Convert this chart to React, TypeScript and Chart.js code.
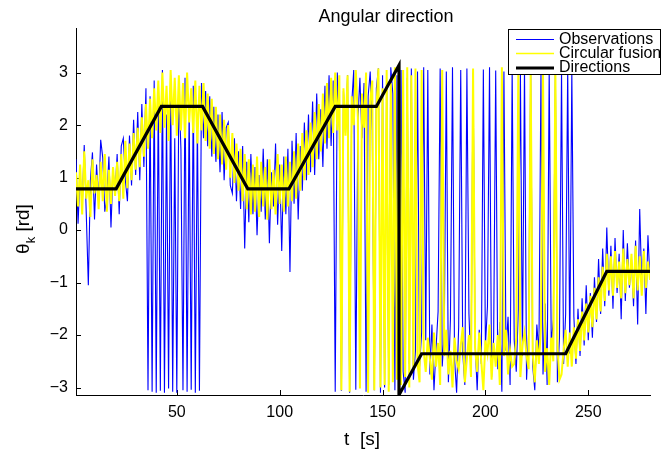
import React, { useEffect, useRef } from "react";
import { Chart, registerables } from "chart.js";

Chart.register(...registerables);

// time stamps: one sample per second starting at t = 1 s
const T_FIRST = 1;
const T_STEP = 1;

// Observations (blue), rad
const observations = [
  1.35, 0.12, 1.10, 0.45, 1.62, 0.30, -1.05, 0.95, 1.48, 0.20,
  1.25, 0.55, 1.72, 1.38, 0.35, 0.62, 1.40, 0.05, 1.15, 0.70,
  1.45, 0.30, 1.60, 1.75, 0.95, 0.55, 1.80, 0.85, 2.10, 1.05,
  2.25, 0.95, 2.40, 1.20, 2.70, -3.05, 2.55, -3.08, 2.85, -3.10,
  2.60, -3.06, 3.05, -3.10, 2.20, -3.02, 2.95, -3.08, 1.75, -3.10,
  2.70, 1.55, -3.05, 2.90, -3.08, 2.40, -3.04, 2.75, -3.10, 2.15,
  -3.06, 2.80, 1.75, 2.65, 1.60, 2.55, 1.40, 2.35, 1.30, 2.20,
  1.10, 2.25, 0.95, 1.95, 2.05, 0.85, 0.70, 1.75, 0.55, 1.50,
  0.40, 1.60, -0.35, 1.30, 0.15, 1.45, 0.30, 1.20, -0.10, 1.05,
  0.35, 1.55, 0.20, 1.35, -0.25, 1.10, 0.45, 1.65, 0.10, 1.25,
  -0.40, 1.40, 0.30, 1.55, -0.80, 1.70, 0.50, 1.85, 0.20, 1.60,
  0.75, 2.05, 0.95, 2.20, 1.10, 2.45, 1.05, 2.60, 1.35, 2.30,
  1.20, 2.75, 1.55, 2.95, 1.60, 2.85, -3.08, 3.00, 1.95, -3.06,
  2.65, 1.85, 2.95, -3.10, 2.40, 3.05, -3.04, 2.10, 2.90, 1.75,
  2.80, -3.08, 2.55, 3.02, 1.90, -3.05, 2.70, 3.08, -3.10, 2.95,
  -3.00, 2.85, -2.95, 3.10, 2.60, -3.05, 2.95, -2.90, 3.05, -2.70,
  -3.10, 2.90, -2.55, 3.08, -2.85, -2.30, 3.02, -2.60, -1.95, 3.10,
  -2.10, 3.05, -2.75, -1.80, -3.05, -2.25, -1.55, 3.08, -2.60, -1.95,
  3.02, -2.90, -1.70, 3.10, -2.45, -3.10, -1.85, 3.05, -2.35, -2.95,
  3.08, -1.60, -2.70, 3.00, -2.15, -3.05, -1.90, -2.55, 3.06, -2.20,
  -1.45, 3.10, -2.80, -2.05, 3.04, -2.65, -1.75, -3.08, 3.02, -2.30,
  -1.65, -2.95, 3.08, -2.10, -2.70, -1.50, 3.05, -2.40, 3.10, -2.85,
  -1.95, 3.06, -2.60, -3.05, -1.80, -2.35, 3.02, -2.75, -1.40, -2.95,
  3.08, -2.20, -1.70, 3.00, -2.90, -2.05, 3.04, -2.55, -1.60, 3.10,
  -2.35, 3.05, -1.65, -2.55, -1.50, -2.40, -1.30, -2.20, -1.05, -2.10,
  -1.20, -2.05, -0.90, -1.75, -0.55, -1.60, -0.35, -1.45, 0.05, -1.25,
  -0.30, -1.50, -0.15, -1.20, -0.45, -1.70, 0.00, -1.35, -0.25, -1.10,
  -0.55, -1.45, -0.20, -1.80, 0.40, -1.05, -0.35, -1.60, -0.10, -0.95,
];

// Circular fusion (yellow), rad
const fusion = [
  1.10, 0.45, 1.25, 0.30, 1.50, 0.60, 0.95, 0.25, 1.35, 0.70,
  1.05, 0.40, 1.30, 0.55, 1.45, 0.35, 1.15, 0.50, 1.20, 0.65,
  1.30, 0.55, 1.45, 0.60, 1.70, 0.80, 1.65, 0.95, 1.85, 1.15,
  1.95, 1.20, 2.15, 1.40, 2.40, 1.55, 2.50, 1.75, 2.70, 1.90,
  2.85, 1.85, 3.00, 1.95, 2.75, 1.70, 3.05, 2.00, 2.90, 1.80,
  2.95, 1.90, 2.80, 1.75, 3.00, 2.05, 2.70, 1.85, 2.85, 1.65,
  2.75, 1.90, 2.80, 1.70, 2.60, 1.55, 2.50, 1.45, 2.35, 1.35,
  2.20, 1.25, 2.10, 1.15, 2.00, 1.00, 1.85, 0.90, 1.65, 0.75,
  1.55, 0.55, 1.45, 0.40, 1.35, 0.30, 1.25, 0.35, 1.40, 0.25,
  1.30, 0.45, 1.20, 0.20, 1.35, 0.40, 1.15, 0.30, 1.45, 0.50,
  1.25, 0.35, 1.40, 0.45, 1.30, 0.55, 1.50, 0.60, 1.65, 0.75,
  1.85, 0.95, 1.90, 1.05, 2.05, 1.20, 2.25, 1.35, 2.40, 1.50,
  2.60, 1.65, 2.80, 1.75, 2.90, 1.85, 3.00, 1.90, 2.95, -3.05,
  2.70, 1.80, 2.95, -3.08, 2.55, 2.00, 3.05, 2.15, -3.02, 2.60,
  1.95, 3.00, -3.10, 2.45, 2.85, -3.05, 2.30, 3.08, -3.00, 2.70,
  -2.95, 3.05, -3.08, 2.80, -2.90, 3.10, -2.85, 3.02, -2.95, 3.05,
  -2.80, 3.10, -3.00, 2.95, -2.65, 3.08, -2.55, -2.90, 3.05, -2.30,
  -2.70, -2.05, -2.45, -2.85, -1.95, -2.60, -2.15, -2.95, 3.05, -2.40,
  -1.90, -2.75, -2.30, -3.00, -2.05, -2.50, -2.65, -2.20, -1.85, -2.90,
  -2.45, -2.00, -2.80, 3.08, -2.25, -2.70, -1.95, -2.50, -3.05, -2.10,
  -2.35, -1.80, -2.85, -2.15, -2.60, -2.00, -2.95, 3.10, -2.40, -1.90,
  -2.75, -2.30, -2.60, -2.55, -2.05, 3.08, -2.80, -2.20, -1.95, -2.40,
  -2.65, 3.00, -2.35, -2.90, -2.10, -2.55, -1.85, 3.05, -2.70, -2.25,
  -2.95, -2.05, -2.50, 3.08, -2.20, -2.85, -2.75, -2.30, -1.90, -2.60,
  -1.95, -2.60, -1.85, -2.45, -1.70, -2.30, -1.55, -2.10, -1.40, -1.95,
  -1.25, -1.85, -1.10, -1.70, -0.90, -1.55, -0.70, -1.35, -0.45, -1.15,
  -0.50, -1.25, -0.40, -1.10, -0.60, -1.30, -0.35, -1.20, -0.55, -1.05,
  -0.45, -1.30, -0.30, -1.15, -0.50, -1.25, -0.40, -1.10, -0.60, -0.95,
];

// Directions (black) – break points
const directionT = [1, 20.5, 42.5, 62.5, 84.5, 104.5, 127, 147, 158, 158, 169, 239, 259, 280];
const directionV = [0.785, 0.785, 2.356, 2.356, 0.785, 0.785, 2.356, 2.356, 3.14, -3.14, -2.356, -2.356, -0.785, -0.785];

const xTicks = [50, 100, 150, 200, 250];
const yTicks = [-3, -2, -1, 0, 1, 2, 3];
const X_MIN = 1;
const X_MAX = 280;
const Y_MIN = -3.1416;
const Y_MAX = 3.85;

const legendLabels = ["Observations", "Circular fusion", "Directions"];
const FONT = "'Liberation Sans', Arial, Helvetica, sans-serif";

const decorPlugin = {
  id: "decor",
  beforeDatasetsDraw(chart: any) {
    const { ctx, chartArea: a, scales } = chart;
    ctx.save();
    ctx.strokeStyle = "#000";
    ctx.lineWidth = 1;
    ctx.beginPath();
    xTicks.forEach((v) => {
      const px = Math.round(scales.x.getPixelForValue(v)) + 0.5;
      ctx.moveTo(px, a.bottom);
      ctx.lineTo(px, a.bottom - 5);
    });
    yTicks.forEach((v) => {
      const py = Math.round(scales.y.getPixelForValue(v)) + 0.5;
      ctx.moveTo(a.left, py);
      ctx.lineTo(a.left + 5, py);
    });
    ctx.stroke();
    ctx.restore();
  },
  afterDraw(chart: any) {
    const { ctx } = chart;
    ctx.save();
    ctx.fillStyle = "#000";
    // title
    ctx.font = `18px ${FONT}`;
    ctx.textAlign = "center";
    ctx.textBaseline = "alphabetic";
    ctx.fillText("Angular direction", 386, 22);
    // x label
    ctx.font = `19px ${FONT}`;
    ctx.fillText("t  [s]", 362, 445);
    // y label (rotated)
    ctx.save();
    ctx.translate(29, 229);
    ctx.rotate(-Math.PI / 2);
    ctx.textAlign = "left";
    ctx.font = `19px ${FONT}`;
    const th = "θ";
    const wTh = ctx.measureText(th).width;
    ctx.font = `13px ${FONT}`;
    const wK = ctx.measureText("k").width;
    ctx.font = `19px ${FONT}`;
    const rest = " [rd]";
    const wRest = ctx.measureText(rest).width;
    const total = wTh + wK + wRest;
    let cx = -total / 2;
    ctx.fillText(th, cx, 0);
    cx += wTh;
    ctx.font = `13px ${FONT}`;
    ctx.fillText("k", cx, 6);
    cx += wK;
    ctx.font = `19px ${FONT}`;
    ctx.fillText(rest, cx, 0);
    ctx.restore();

    // legend
    const bx = 508.5, by = 29.5, bw = 152, bh = 45;
    ctx.fillStyle = "#fff";
    ctx.fillRect(bx, by, bw, bh);
    ctx.strokeStyle = "#000";
    ctx.lineWidth = 1;
    ctx.strokeRect(bx, by, bw, bh);
    const rows = [39.5, 53.5, 68];
    const colors = ["#0000ff", "#ffff00", "#000000"];
    const widths = [1, 1.5, 3];
    ctx.font = `16px ${FONT}`;
    ctx.textAlign = "left";
    ctx.textBaseline = "middle";
    rows.forEach((ry, i) => {
      ctx.strokeStyle = colors[i];
      ctx.lineWidth = widths[i];
      ctx.beginPath();
      ctx.moveTo(516, ry);
      ctx.lineTo(554, ry);
      ctx.stroke();
      ctx.fillStyle = "#000";
      ctx.fillText(legendLabels[i], 559, ry);
    });
    ctx.restore();
  },
};

export default function App() {
  const ref = useRef<HTMLCanvasElement | null>(null);
  useEffect(() => {
    document.body.style.margin = "0";
    const canvas = ref.current;
    if (!canvas) return;
    const obsPts = observations.map((v, i) => ({ x: T_FIRST + i * T_STEP, y: v }));
    const fusPts = fusion.map((v, i) => ({ x: T_FIRST + i * T_STEP, y: v }));
    const dirPts = directionT.map((t, i) => ({ x: t, y: directionV[i] }));
    const chart = new Chart(canvas, {
      type: "line",
      data: {
        datasets: [
          { label: legendLabels[2], data: dirPts, borderColor: "#000000", borderWidth: 3.2, pointRadius: 0, order: 0 },
          { label: legendLabels[1], data: fusPts, borderColor: "#ffff00", borderWidth: 2, pointRadius: 0, order: 1 },
          { label: legendLabels[0], data: obsPts, borderColor: "#0000ff", borderWidth: 1.1, pointRadius: 0, order: 2 },
        ],
      },
      options: {
        animation: false,
        responsive: false,
        maintainAspectRatio: false,
        layout: { padding: { left: 0, right: 12, top: 28, bottom: 0 } },
        plugins: { legend: { display: false }, title: { display: false }, tooltip: { enabled: false } },
        elements: { line: { tension: 0, borderJoinStyle: "miter" } },
        scales: {
          x: {
            type: "linear",
            min: X_MIN,
            max: X_MAX,
            grid: { display: false, drawTicks: false },
            border: { display: true, color: "#000", width: 1 },
            ticks: { color: "#000", font: { family: FONT, size: 16 }, padding: 8, maxRotation: 0 },
            afterBuildTicks: (s: any) => { s.ticks = xTicks.map((v) => ({ value: v })); },
            afterFit: (s: any) => { s.height = 61; },
          },
          y: {
            type: "linear",
            min: Y_MIN,
            max: Y_MAX,
            grid: { display: false, drawTicks: false },
            border: { display: true, color: "#000", width: 1 },
            ticks: { color: "#000", font: { family: FONT, size: 16 }, padding: 8, callback: (v: any) => String(v).replace("-", "\u2212") },
            afterBuildTicks: (s: any) => { s.ticks = yTicks.map((v) => ({ value: v })); },
            afterFit: (s: any) => { s.width = 76; },
          },
        },
      },
      plugins: [decorPlugin],
    });
    return () => chart.destroy();
  }, []);
  return (
    <div style={{ width: 662, height: 456, background: "#fff" }}>
      <canvas ref={ref} width={662} height={456} style={{ display: "block" }} />
    </div>
  );
}
